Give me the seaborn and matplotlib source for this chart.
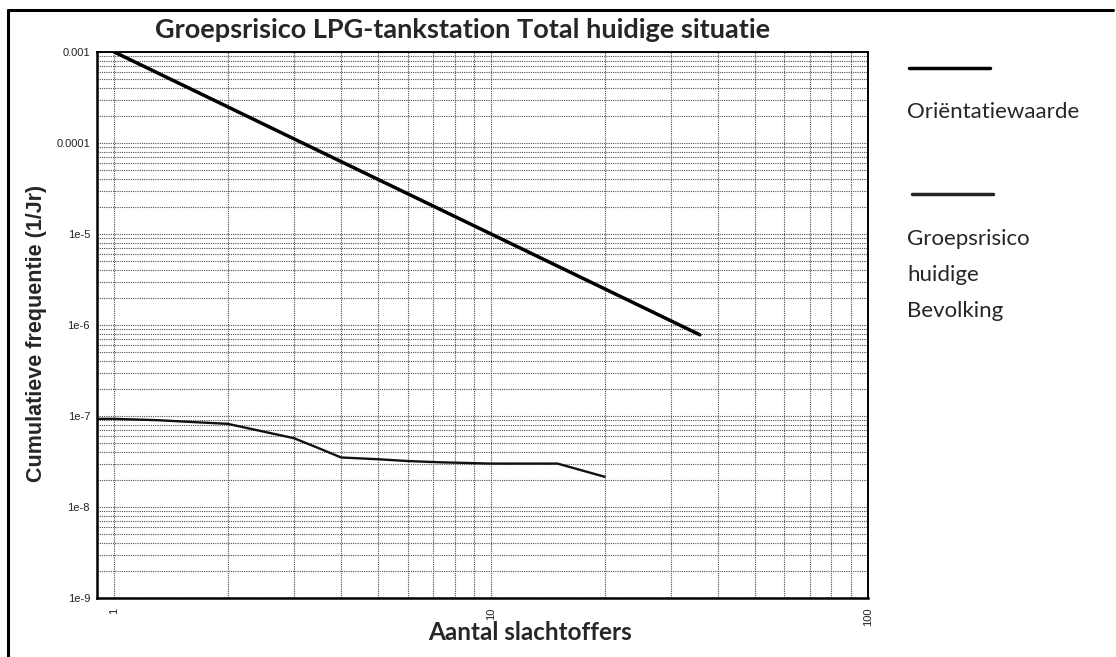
import numpy as np
import pandas as pd
import matplotlib
matplotlib.use("Agg")
import matplotlib.pyplot as plt
import seaborn as sns
from matplotlib.ticker import FixedLocator, FixedFormatter, LogLocator, NullFormatter

# ---- data ----
title = "Groepsrisico LPG-tankstation Total huidige situatie"
xlabel = "Aantal slachtoffers"
ylabel = "Cumulatieve frequentie (1/Jr)"

orient_n = [1.0, 3.16, 10.0, 35.8]
orient_f = [1e-3, 1e-4, 1e-5, 7.8e-7]

gr_n = [0.9, 1.0, 1.3, 1.6, 2.0, 3.0, 3.5, 4.0, 5.0, 6.0, 7.3, 10.0, 12.0, 15.0, 20.0]
gr_f = [9.3e-8, 9.3e-8, 9.0e-8, 8.6e-8, 8.2e-8, 5.7e-8, 4.4e-8, 3.5e-8, 3.35e-8, 3.2e-8, 3.1e-8, 3.0e-8, 3.0e-8, 3.0e-8, 2.15e-8]

ytick_vals = [1e-9, 1e-8, 1e-7, 1e-6, 1e-5, 1e-4, 1e-3]
ytick_labels = ["1e-9", "1e-8", "1e-7", "1e-6", "1e-5", "0.0001", "0.001"]
xtick_vals = [1, 10, 100]
xtick_labels = ["1", "10", "100"]

legend_label_1 = ["Oriëntatiewaarde"]
legend_label_2 = ["Groepsrisico", "huidige", "Bevolking"]

sns.set_theme(style="white")
plt.rcParams['font.family'] = ['Liberation Sans', 'DejaVu Sans']

W, H = 1116, 657
fig = plt.figure(figsize=(W / 100, H / 100), dpi=100)
ax = fig.add_axes([97 / W, 1 - 598 / H, (868 - 97) / W, (598 - 52) / H])

df1 = pd.DataFrame({"N": orient_n, "F": orient_f})
df2 = pd.DataFrame({"N": gr_n, "F": gr_f})
sns.lineplot(data=df1, x="N", y="F", ax=ax, color="black", lw=2.5, estimator=None, sort=False)
sns.lineplot(data=df2, x="N", y="F", ax=ax, color="#111111", lw=1.7, estimator=None, sort=False)

ax.set_xscale("log")
ax.set_yscale("log")
ax.set_xlim(0.9, 100)
ax.set_ylim(1e-9, 1e-3)

ax.xaxis.set_major_locator(FixedLocator(xtick_vals))
ax.xaxis.set_major_formatter(FixedFormatter(xtick_labels))
ax.xaxis.set_minor_locator(LogLocator(base=10, subs=np.arange(2, 10), numticks=20))
ax.xaxis.set_minor_formatter(NullFormatter())
ax.yaxis.set_major_locator(FixedLocator(ytick_vals))
ax.yaxis.set_major_formatter(FixedFormatter(ytick_labels))
ax.yaxis.set_minor_locator(LogLocator(base=10, subs=np.arange(2, 10), numticks=20))
ax.yaxis.set_minor_formatter(NullFormatter())

ax.grid(which="both", linestyle=(0, (1, 1)), color="0.3", lw=0.8)
ax.tick_params(axis="both", which="major", length=3, width=0.8, color="black",
               labelsize=8, labelcolor="#222222", pad=2)
ax.tick_params(axis="both", which="minor", length=0)
ax.tick_params(axis="x", labelrotation=90, pad=4)
ax.set_xlabel("")
ax.set_ylabel("")
for s in ["left", "bottom"]:
    ax.spines[s].set_linewidth(1.8)
    ax.spines[s].set_color("black")
for s in ["top", "right"]:
    ax.spines[s].set_linewidth(1.4)
    ax.spines[s].set_color("black")

fig.text(463 / W, 1 - 30 / H, title, ha="center", va="center", fontsize=19.5,
         fontweight="bold", family=["Lato", "DejaVu Sans"])
fig.text(530 / W, 1 - 632 / H, xlabel, ha="center", va="center", fontsize=17.5,
         fontweight="bold", family=["Lato", "DejaVu Sans"])
fig.text(37 / W, 1 - 333 / H, ylabel, ha="center", va="center", rotation=90,
         fontsize=15.5, fontweight="bold")

# legend drawn on the right
fig.add_artist(plt.Line2D([909 / W, 990 / W], [1 - 68 / H, 1 - 68 / H], color="black", lw=2.5))
fig.add_artist(plt.Line2D([912 / W, 993 / W], [1 - 194 / H, 1 - 194 / H], color="#222222", lw=2.5))
fig.text(907 / W, 1 - 112 / H, legend_label_1[0], ha="left", va="center", fontsize=16,
         family=["Lato", "DejaVu Sans"])
for i, word in enumerate(legend_label_2):
    fig.text(907 / W, 1 - (239 + 36 * i) / H, word, ha="left", va="center", fontsize=16,
             family=["Lato", "DejaVu Sans"])

# frame (top and left)
fig.add_artist(plt.Line2D([8 / W, 8 / W], [0, 1 - 10 / H], color="black", lw=2.2))
fig.add_artist(plt.Line2D([8 / W, 1113 / W], [1 - 10 / H, 1 - 10 / H], color="black", lw=2.2))

fig.savefig("out.png", dpi=100)
